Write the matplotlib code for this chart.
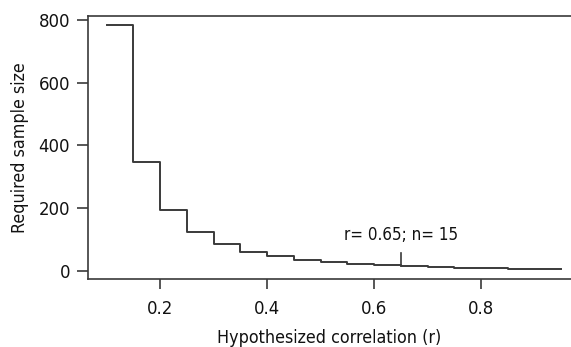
import matplotlib
matplotlib.use("Agg")
import matplotlib.pyplot as plt

# hypothesized correlation and required n (power 0.8, alpha 0.05)
r_vals = [0.10, 0.15, 0.20, 0.25, 0.30, 0.35, 0.40, 0.45, 0.50,
          0.55, 0.60, 0.65, 0.70, 0.75, 0.80, 0.85, 0.90, 0.95]
n_vals = [782, 346, 194, 123, 85, 62, 47, 37, 29,
          23, 19, 15, 13, 11, 9, 8, 7, 7]
xticks = [0.2, 0.4, 0.6, 0.8]
yticks = [0, 200, 400, 600, 800]
note_r = 0.65
note_n = 15
note_txt = "r= 0.65; n= 15"

plt.rcParams['font.family'] = ['DejaVu Sans']
plt.rcParams['font.stretch'] = 'condensed'

col = "#3a3a3a"
fig = plt.figure(figsize=(5.71, 3.47), dpi=100)
ax = fig.add_axes([88/571, (347-279)/347, (571-88)/571, (279-16)/347])
ax.step(r_vals, n_vals, where="post", color=col, lw=1.4)

# annotation mark at r=0.65
ax.plot([note_r, note_r], [note_n, 57], color=col, lw=1.2)
ax.text(note_r, 85, note_txt, ha="center", va="bottom", fontsize=12.2, color="#111111")

ax.set_xlim(0.065, 0.968)
ax.set_ylim(-25, 812)
ax.set_xticks(xticks)
ax.set_xticklabels([str(t) for t in xticks])
ax.set_yticks(yticks)
ax.spines["right"].set_visible(False)
for s in ["left", "top", "bottom"]:
    ax.spines[s].set_color(col)
    ax.spines[s].set_linewidth(1.2)
ax.tick_params(colors=col, labelcolor="#111111", labelsize=13.2, length=8, width=1.2, pad=5)
ax.tick_params(axis="x", length=7, pad=8)
ax.set_xlabel("Hypothesized correlation (r)", fontsize=12.8, color="#111111", labelpad=8)
ax.set_ylabel("Required sample size", fontsize=12.8, color="#111111", labelpad=7)

fig.savefig("out.png", dpi=100)
